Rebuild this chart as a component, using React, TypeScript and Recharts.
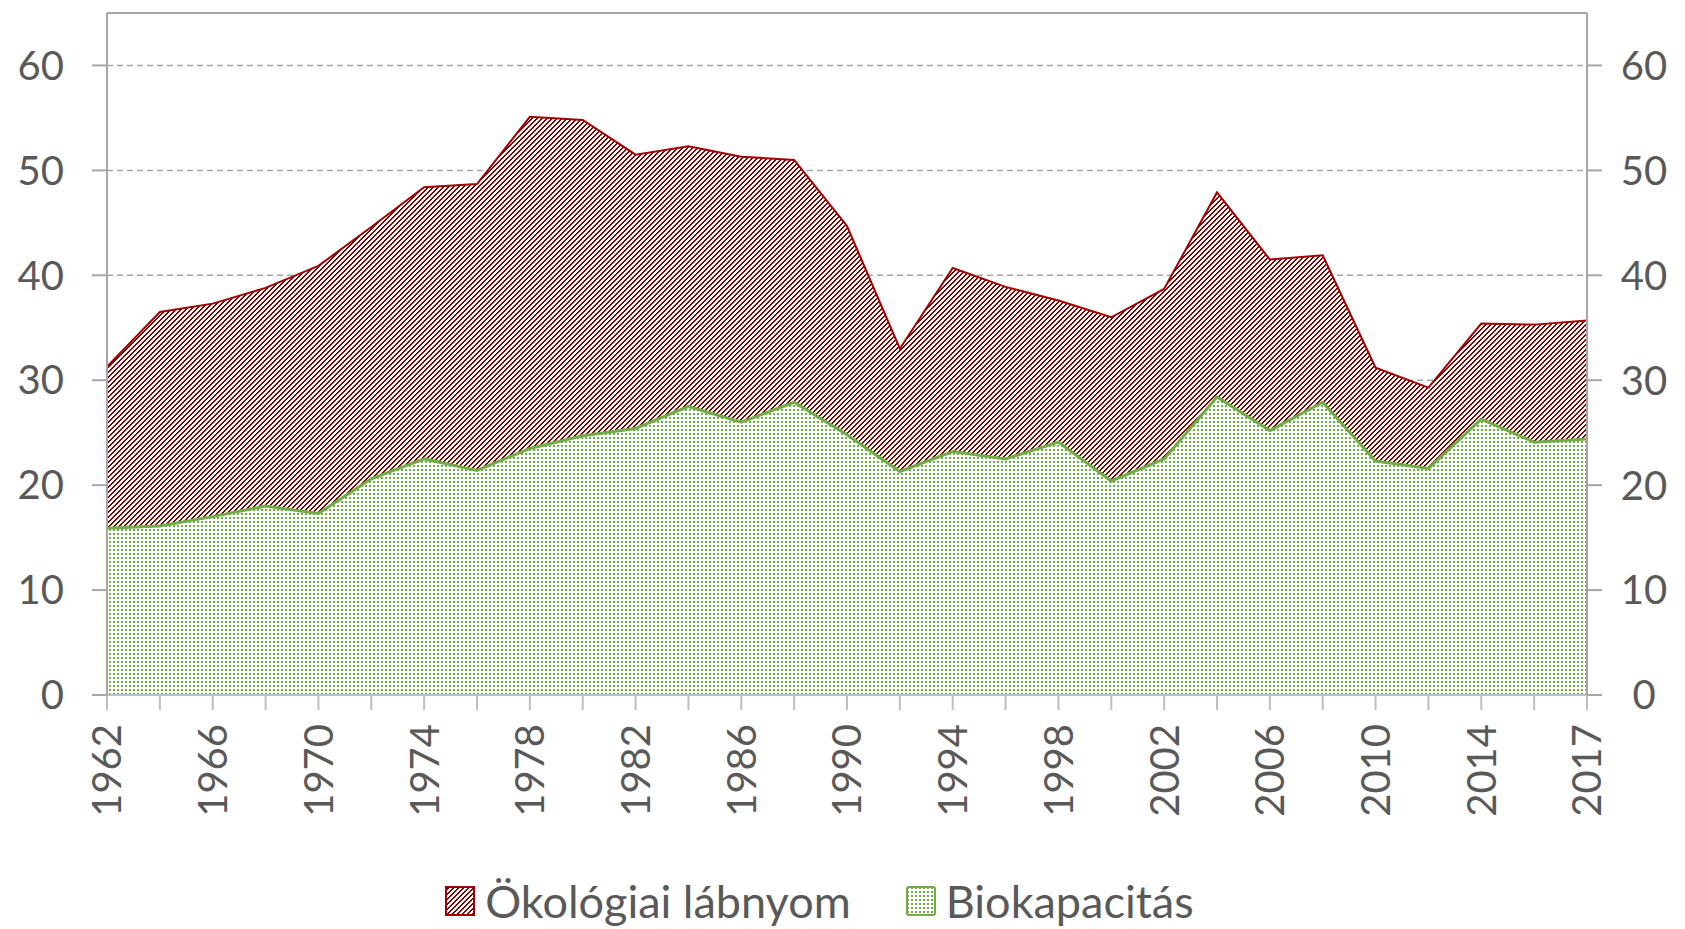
import { AreaChart, Area, XAxis, YAxis, CartesianGrid, Legend, ReferenceLine } from 'recharts';

const YEARS = [
  '1962', '1964', '1966', '1968', '1970', '1972', '1974', '1976', '1978', '1980',
  '1982', '1984', '1986', '1988', '1990', '1992', '1994', '1996', '1998', '2000',
  '2002', '2004', '2006', '2008', '2010', '2012', '2014', '2016', '2017',
];
const FOOTPRINT = [
  31.3, 36.5, 37.3, 38.8, 40.9, 44.6, 48.4, 48.7, 55.1, 54.8,
  51.5, 52.3, 51.3, 51.0, 44.7, 33.0, 40.7, 38.9, 37.6, 36.0,
  38.7, 47.9, 41.5, 41.9, 31.2, 29.3, 35.4, 35.3, 35.7,
];
const BIOCAPACITY = [
  15.9, 16.1, 17.0, 18.0, 17.3, 20.6, 22.5, 21.4, 23.5, 24.7,
  25.4, 27.5, 26.0, 27.9, 24.8, 21.3, 23.2, 22.5, 24.1, 20.4,
  22.5, 28.4, 25.2, 27.9, 22.3, 21.6, 26.3, 24.1, 24.4,
];
const Y_TICKS = [0, 10, 20, 30, 40, 50, 60];
const LABEL_FOOTPRINT = 'Ökológiai lábnyom';
const LABEL_BIO = 'Biokapacitás';

const data = YEARS.map((year, i) => ({ year, footprint: FOOTPRINT[i], bio: BIOCAPACITY[i] }));

const TEXT = '#595959';
const AXIS = '#a6a6a6';
const RED = '#a00000';
const HATCH = '#7a0000';
const GREEN = '#70ad47';
const FONT = 'Lato, "Open Sans", sans-serif';

// 5px tile, 2px wide upward diagonal stripe
const HATCH_ROWS = [0, 1, 2, 3, 4];

function HatchDefs({ prefix }: { prefix: string }) {
  return (
    <defs>
      <pattern id={`${prefix}-hatch`} patternUnits="userSpaceOnUse" width={5} height={5}>
        <rect width={5} height={5} fill="#fff" />
        {HATCH_ROWS.map((r) => (
          <g key={r}>
            <rect x={4 - r} y={r} width={1} height={1} fill={HATCH} />
            <rect x={(5 - r) % 5} y={r} width={1} height={1} fill={HATCH} />
          </g>
        ))}
      </pattern>
      <pattern id={`${prefix}-dots`} patternUnits="userSpaceOnUse" width={4} height={4}>
        <rect width={4} height={4} fill="#fff" />
        <rect x={1} y={1} width={2} height={2} fill={GREEN} />
      </pattern>
    </defs>
  );
}

const XTick = (props: any) => {
  const { x, y, payload, index } = props;
  if (index % 2 !== 0) return <g />;
  return (
    <text
      x={0}
      y={0}
      transform={`translate(${x},${y}) rotate(-90)`}
      textAnchor="end"
      dy="0.36em"
      fill={TEXT}
      fontSize={40}
      fontFamily={FONT}
    >
      {payload.value}
    </text>
  );
};

const RightTick = (props: any) => {
  const { x, y, payload } = props;
  return (
    <text x={x + 42} y={y} dy="0.36em" textAnchor="middle" fill={TEXT} fontSize={40} fontFamily={FONT}>
      {payload.value}
    </text>
  );
};

const Swatch = ({ kind }: { kind: 'hatch' | 'dots' }) => (
  <svg width={30} height={30} style={{ display: 'block' }}>
    <HatchDefs prefix="lg" />
    <rect
      x={1}
      y={1}
      width={28}
      height={28}
      rx={kind === 'dots' ? 2 : 0}
      fill={`url(#lg-${kind})`}
      stroke={kind === 'hatch' ? RED : GREEN}
      strokeWidth={2}
    />
  </svg>
);

const renderLegend = () => (
  <div
    style={{
      height: 56,
      display: 'flex',
      justifyContent: 'center',
      alignItems: 'center',
      gap: 55,
      paddingRight: 46,
      fontFamily: FONT,
      fontSize: 45,
      color: TEXT,
    }}
  >
    <div style={{ display: 'flex', alignItems: 'center', gap: 10 }}>
      <Swatch kind="hatch" />
      <span>{LABEL_FOOTPRINT}</span>
    </div>
    <div style={{ display: 'flex', alignItems: 'center', gap: 10 }}>
      <Swatch kind="dots" />
      <span>{LABEL_BIO}</span>
    </div>
  </div>
);

export default function App() {
  return (
    <div style={{ position: 'absolute', left: 0, top: 0, background: '#fff', fontFamily: FONT }}>
      <AreaChart width={1685} height={929} data={data} margin={{ top: 13, right: 0, left: 0, bottom: 0 }}>
        <HatchDefs prefix="ch" />
        <CartesianGrid vertical={false} stroke={AXIS} strokeDasharray="6 4" strokeWidth={1.5} yAxisId="left" />
        <XAxis
          dataKey="year"
          interval={0}
          height={178}
          tick={<XTick />}
          tickSize={15}
          tickMargin={14}
          tickLine={{ stroke: '#bfbfbf', strokeWidth: 2 }}
          axisLine={{ stroke: '#bfbfbf', strokeWidth: 2 }}
        />
        <YAxis
          yAxisId="left"
          domain={[0, 65]}
          ticks={Y_TICKS}
          width={107}
          tickSize={15}
          tickMargin={28}
          tick={{ fill: TEXT, fontSize: 40, fontFamily: FONT }}
          tickLine={{ stroke: AXIS, strokeWidth: 2 }}
          axisLine={{ stroke: AXIS, strokeWidth: 2 }}
        />
        <YAxis
          yAxisId="right"
          orientation="right"
          domain={[0, 65]}
          ticks={Y_TICKS}
          width={98}
          tickSize={15}
          tickMargin={0}
          tick={<RightTick />}
          tickLine={{ stroke: AXIS, strokeWidth: 2 }}
          axisLine={{ stroke: AXIS, strokeWidth: 2 }}
        />
        <Area
          yAxisId="left"
          type="linear"
          dataKey="footprint"
          name={LABEL_FOOTPRINT}
          stroke={RED}
          strokeWidth={2}
          fill="url(#ch-hatch)"
          fillOpacity={1}
          dot={false}
          activeDot={false}
          isAnimationActive={false}
        />
        <Area
          yAxisId="right"
          type="linear"
          dataKey="bio"
          name={LABEL_BIO}
          stroke={GREEN}
          strokeWidth={3}
          fill="url(#ch-dots)"
          fillOpacity={1}
          dot={false}
          activeDot={false}
          isAnimationActive={false}
        />
        <ReferenceLine yAxisId="left" y={65} stroke={AXIS} strokeWidth={2} />
        <Legend verticalAlign="bottom" align="center" content={renderLegend} />
      </AreaChart>
    </div>
  );
}
